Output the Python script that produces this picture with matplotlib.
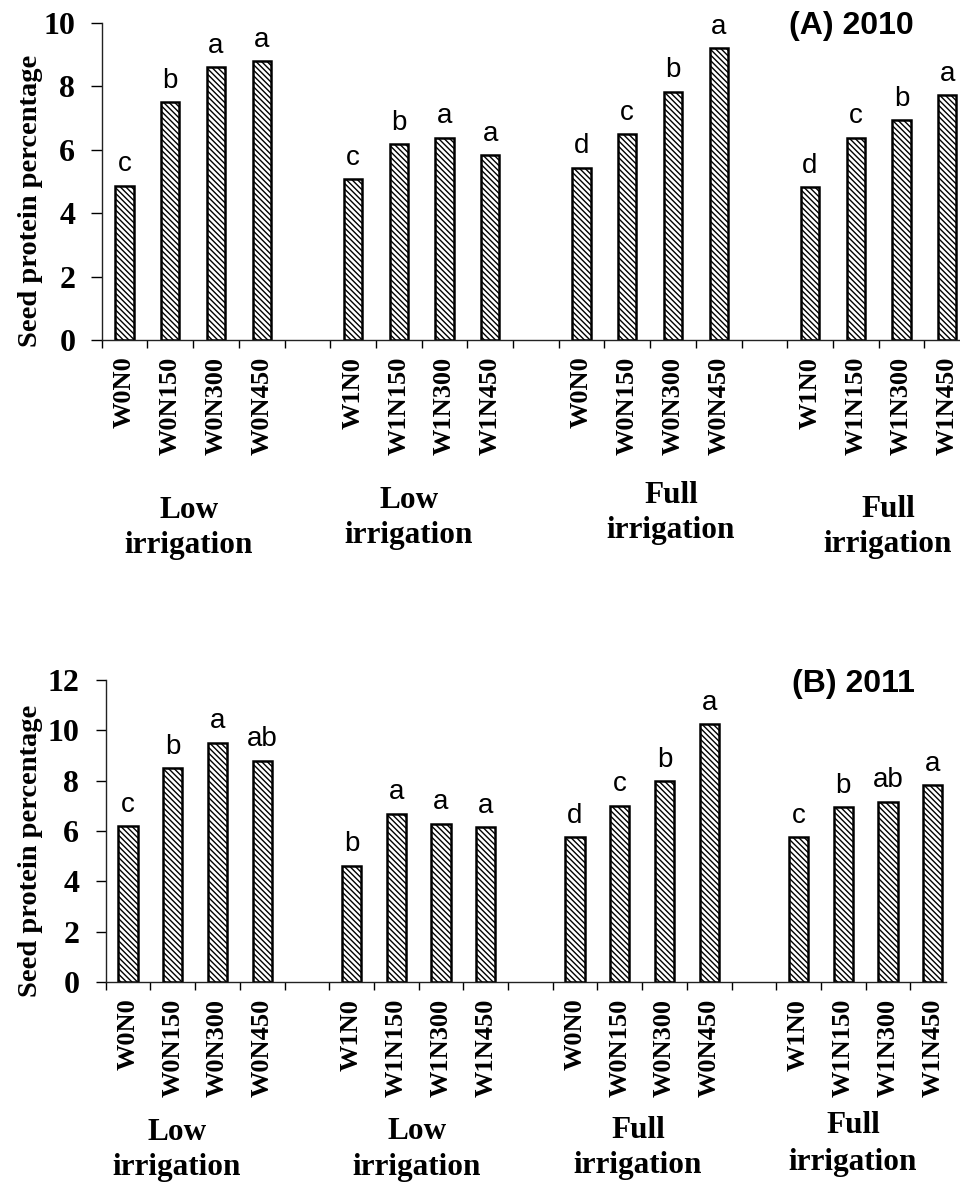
import matplotlib.pyplot as plt
from matplotlib.ticker import FixedLocator

plt.rcParams['hatch.linewidth'] = 1.0

# bar categories (four treatment groups of four N rates)
treatments = ["W0N0", "W0N150", "W0N300", "W0N450",
              "W1N0", "W1N150", "W1N300", "W1N450",
              "W0N0", "W0N150", "W0N300", "W0N450",
              "W1N0", "W1N150", "W1N300", "W1N450"]
group_first = ["Low", "Low", "Full", "Full"]
group_second = ["irrigation", "irrigation", "irrigation", "irrigation"]

protein_2010 = [4.87, 7.50, 8.60, 8.80, 5.07, 6.17, 6.38, 5.84,
                5.44, 6.49, 7.83, 9.20, 4.82, 6.38, 6.94, 7.73]
letters_2010 = ["c", "b", "a", "a", "c", "b", "a", "a",
                "d", "c", "b", "a", "d", "c", "b", "a"]

protein_2011 = [6.19, 8.49, 9.51, 8.80, 4.62, 6.69, 6.29, 6.15,
                5.76, 7.01, 7.98, 10.24, 5.76, 6.96, 7.16, 7.81]
letters_2011 = ["c", "b", "a", "ab", "b", "a", "a", "a",
                "d", "c", "b", "a", "c", "b", "ab", "a"]

W, H = 960, 1183
SERIF = "Liberation Serif"
SANS = "Liberation Sans"

fig = plt.figure(figsize=(W / 100, H / 100), dpi=100)


def px(x, y):
    return x / W, 1 - y / H


# one empty slot between groups, like the original category axis
slots = [g * 5 + j for g in range(4) for j in range(4)]


def panel(rect, values, letters, ymax, xmax, bar_w, ytick_pad, ytick_len):
    ax = fig.add_axes(rect)
    ax.bar(slots, values, width=bar_w, color="white", edgecolor="black",
           linewidth=1.8, hatch="\\" * 6, zorder=2)
    for x, v, s in zip(slots, values, letters):
        ax.annotate(s, (x, v), xytext=(0, 6), textcoords="offset points",
                    ha="center", va="bottom", fontsize=20, family=SANS)
    ax.set_xlim(-0.5, xmax)
    ax.set_ylim(0, ymax)
    for side in ("top", "right"):
        ax.spines[side].set_visible(False)
    for side in ("left", "bottom"):
        ax.spines[side].set_linewidth(1.0)
        ax.spines[side].set_color("#222222")
    ax.set_yticks(range(0, ymax + 1, 2))
    ax.tick_params(axis="y", direction="out", length=ytick_len, width=1.0,
                   pad=ytick_pad, labelsize=23)
    for t in ax.get_yticklabels():
        t.set_family(SERIF)
        t.set_fontweight("bold")
    # tick marks at slot edges, labels at bar centres
    ax.xaxis.set_major_locator(FixedLocator([k - 0.5 for k in range(19)]))
    ax.xaxis.set_major_formatter(plt.NullFormatter())
    ax.xaxis.set_minor_locator(FixedLocator(slots))
    ax.set_xticklabels(treatments, minor=True, rotation=90, fontsize=19,
                       family=SERIF, fontweight="bold", va="top")
    ax.tick_params(axis="x", which="major", direction="out", length=6, width=1.0)
    ax.tick_params(axis="x", which="minor", length=0, pad=12)
    return ax


ax1 = panel([101.7 / W, 843 / H, 19 * 45.7 / W, 317 / H],
            protein_2010, letters_2010, 10, 18.5, 0.4, 11, 8)
ax2 = panel([105.7 / W, 201 / H, 18.8 * 44.7 / W, 302 / H],
            protein_2011, letters_2011, 12, 18.3, 0.43, 12, 7)

# y axis titles
for (x, y) in [(31, 201), (31, 851)]:
    fig.text(*px(x, y), "Seed protein percentage", rotation=90, ha="center",
             va="center", fontsize=20.5, family=SERIF, fontweight="bold")

# panel titles
fig.text(*px(851, 26), "(A) 2010", ha="center", va="center", fontsize=23,
         family=SANS, fontweight="bold")
fig.text(*px(853, 684), "(B) 2011", ha="center", va="center", fontsize=23,
         family=SANS, fontweight="bold")

# group names under the tick labels
top_groups = [(189, 518, 553), (409, 508, 543), (671, 503, 538), (888, 517, 552)]
bottom_groups = [(177, 1140, 1175), (417, 1139, 1175), (638, 1138, 1173), (853, 1133, 1170)]
for spots in (top_groups, bottom_groups):
    for (x, y1, y2), a, b in zip(spots, group_first, group_second):
        fig.text(*px(x, y1), a, ha="center", va="baseline", fontsize=22.5,
                 family=SERIF, fontweight="bold")
        fig.text(*px(x, y2), b, ha="center", va="baseline", fontsize=22.5,
                 family=SERIF, fontweight="bold")

fig.savefig("out.png", dpi=100)
